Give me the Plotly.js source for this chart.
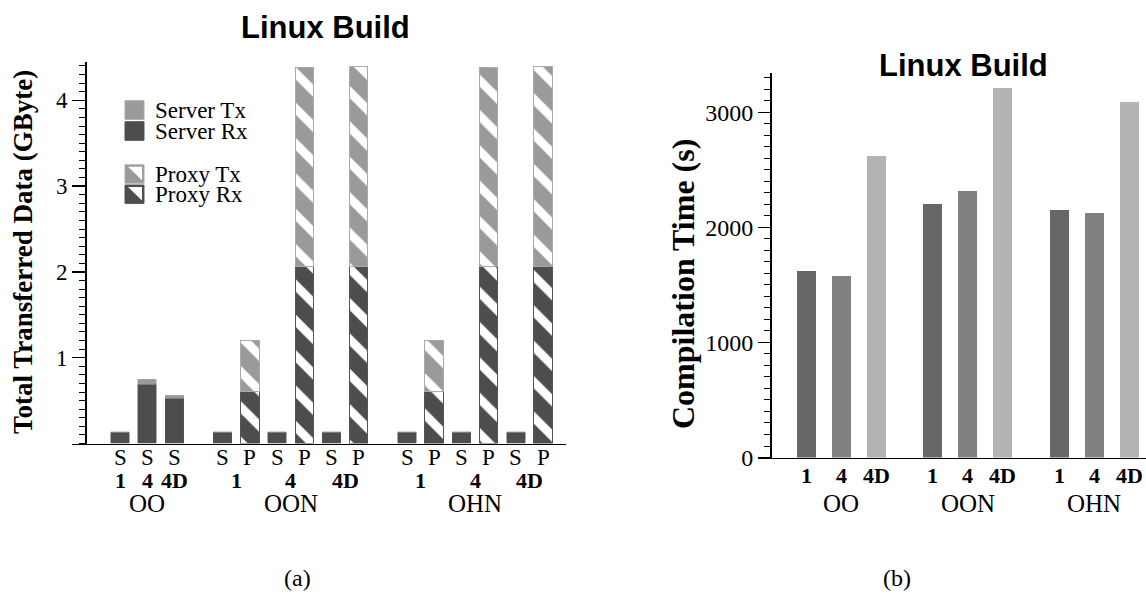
<!DOCTYPE html>
<html>
<head>
<meta charset="utf-8">
<script src="https://cdn.plot.ly/plotly-3.0.1.min.js"></script>
<style>html,body{margin:0;padding:0;background:#fff;}#chart{width:1146px;height:603px;}</style>
</head>
<body>
<div id="chart"></div>
<script>
// ---------- data ----------
const groupNames = ['OO', 'OON', 'OHN'];
const configLabels = ['1', '4', '4D'];
const groupHasProxy = [false, true, true];
// per group x config (OO 1,4,4D | OON 1,4,4D | OHN 1,4,4D), GByte
const serverRx = [0.13, 0.69, 0.53, 0.13, 0.13, 0.13, 0.13, 0.13, 0.13];
const serverTx = [0.006, 0.06, 0.03, 0.006, 0.006, 0.006, 0.006, 0.006, 0.006];
const proxyRx  = [null, null, null, 0.61, 2.06, 2.06, 0.61, 2.06, 2.06];
const proxyTx  = [null, null, null, 0.59, 2.32, 2.33, 0.59, 2.32, 2.33];
// compilation time (s)
const compileTime = [1622, 1578, 2620, 2201, 2318, 3214, 2152, 2122, 3087];
const serverTickLabel = 'S';
const proxyTickLabel = 'P';
const chartTitle = 'Linux Build';
const leftYTitle = 'Total Transferred Data (GByte)';
const rightYTitle = 'Compilation Time (s)';
const legendLabels = ['Server Tx', 'Server Rx', 'Proxy Tx', 'Proxy Rx'];
const captions = ['(a)', '(b)'];

// ---------- layout helpers ----------
const W = 1146, H = 603;
const fx = p => p / W;
const fy = p => 1 - p / H;
const serif = 'Liberation Serif, Times New Roman, serif';
const sans = 'Liberation Sans, Arial, sans-serif';

const cDarkL = '#4d4d4d', cLightL = '#9a9a9a';
const rightColors = ['#666666', '#808080', '#b3b3b3'];

// left slot positions
const leftGap = 1.776;
const sX = [], pX = [], sIdx = [], pIdx = [];
const leftTickVals = [], leftTickText = [];
const cfgCenterL = [], grpCenterL = [];
let pos = 0;
groupNames.forEach((g, gi) => {
  const start = pos;
  configLabels.forEach((c, ci) => {
    const k = gi * configLabels.length + ci;
    const sPos = pos;
    sX.push(pos); sIdx.push(k);
    leftTickVals.push(pos); leftTickText.push(serverTickLabel);
    pos += 1;
    if (groupHasProxy[gi]) {
      pX.push(pos); pIdx.push(k);
      leftTickVals.push(pos); leftTickText.push(proxyTickLabel);
      cfgCenterL.push([(sPos + pos) / 2, c]);
      pos += 1;
    } else {
      cfgCenterL.push([sPos, c]);
    }
  });
  grpCenterL.push([(start + pos - 1) / 2, g]);
  pos = pos - 1 + leftGap;
});

// right slot positions
const rightGap = 1.6;
const rX = [], cfgR = [], grpCenterR = [];
pos = 0;
groupNames.forEach((g, gi) => {
  const start = pos;
  configLabels.forEach((c, ci) => { rX.push(pos); cfgR.push(c); pos += 1; });
  grpCenterR.push([(start + pos - 1) / 2, g]);
  pos = pos - 1 + rightGap;
});

// pixel calibration
const L = {slot0: 120, slotPx: 27.2, x0: 72, x1: 566, yAxisPx: 85, zeroPx: 443.5, topPx: 61.7, yMax: 4.45};
const R = {slot0: 806.3, slotPx: 35.1, x0: 758, x1: 1146, yAxisPx: 770, zeroPx: 457.5, topPx: 73.3, yMax: 3340};

const pick = (arr, idx) => idx.map(i => arr[i]);
const wL = 0.68, wR = 0.54;

const traces = [
  {type: 'bar', x: sX, y: pick(serverRx, sIdx), width: wL, xaxis: 'x', yaxis: 'y', name: legendLabels[1],
   marker: {color: cDarkL, line: {color: '#5a5a5a', width: 0.5}}, hoverinfo: 'y'},
  {type: 'bar', x: sX, y: pick(serverTx, sIdx), width: wL, xaxis: 'x', yaxis: 'y', name: legendLabels[0],
   marker: {color: cLightL, line: {color: '#a8a8a8', width: 0.5}}, hoverinfo: 'y'},
  {type: 'bar', x: pX, y: pick(proxyRx, pIdx), width: wL, xaxis: 'x', yaxis: 'y', name: legendLabels[3],
   marker: {color: cDarkL, line: {color: '#555555', width: 1},
     pattern: {shape: '\\', fgcolor: '#ffffff', bgcolor: cDarkL, size: 25, solidity: 0.35, fillmode: 'replace'}}, hoverinfo: 'y'},
  {type: 'bar', x: pX, y: pick(proxyTx, pIdx), width: wL, xaxis: 'x', yaxis: 'y', name: legendLabels[2],
   marker: {color: cLightL, line: {color: '#aaaaaa', width: 1},
     pattern: {shape: '\\', fgcolor: '#ffffff', bgcolor: cLightL, size: 25, solidity: 0.35, fillmode: 'replace'}}, hoverinfo: 'y'},
  {type: 'bar', x: rX, y: compileTime, width: wR, xaxis: 'x2', yaxis: 'y2', name: 'time',
   marker: {color: cfgR.map(c => rightColors[configLabels.indexOf(c)]), line: {width: 0}}, hoverinfo: 'y'}
];

const annotations = [];
const shapes = [];
const txt = (text, xref, x, py, size, extra) => annotations.push(Object.assign({
  text: text, xref: xref, yref: 'paper', x: x, y: fy(py), xanchor: 'center', yanchor: 'middle',
  showarrow: false, font: {family: serif, size: size, color: '#000'}}, extra || {}));

// titles
txt('<b>' + chartTitle + '</b>', 'paper', fx(325), 27, 31, {font: {family: sans, size: 31, color: '#000'}});
txt('<b>' + chartTitle + '</b>', 'paper', fx(963), 66, 31, {font: {family: sans, size: 31, color: '#000'}});
// y titles
txt('<b>' + leftYTitle + '</b>', 'paper', fx(23), 252, 27, {textangle: -90});
txt('<b>' + rightYTitle + '</b>', 'paper', fx(683), 284, 32, {textangle: -90});
// left x labels: S/P row, config row, group row
leftTickVals.forEach((v, i) => txt(leftTickText[i], 'x', v, 457, 23));
cfgCenterL.forEach(([x, c]) => txt('<b>' + c + '</b>', 'x', x, 480, 22));
grpCenterL.forEach(([x, g]) => txt(g, 'x', x, 503, 25));
// right x labels
rX.forEach((v, i) => txt('<b>' + cfgR[i] + '</b>', 'x2', v, 475, 22));
grpCenterR.forEach(([x, g]) => txt(g, 'x2', x, 503.5, 25));
// captions
txt(captions[0], 'paper', fx(297), 578, 24);
txt(captions[1], 'paper', fx(897), 578, 24);

// manual legend
const legRows = [
  {label: legendLabels[0], color: cLightL, top: 100.7, bot: 119.3, hatch: false},
  {label: legendLabels[1], color: cDarkL, top: 121.7, bot: 140.3, hatch: false},
  {label: legendLabels[2], color: cLightL, top: 164.8, bot: 183.2, hatch: true},
  {label: legendLabels[3], color: cDarkL, top: 185.0, bot: 203.4, hatch: true}
];
const lx0 = 125, lx1 = 144;
legRows.forEach(r => {
  shapes.push({type: 'rect', xref: 'paper', yref: 'paper', x0: fx(lx0), x1: fx(lx1), y0: fy(r.bot), y1: fy(r.top),
    fillcolor: r.color, line: {color: r.color === cDarkL ? '#555' : '#aaa', width: 1}});
  if (r.hatch) {
    const a = [fx(lx0 + 3), fy(r.top + 2)], b = [fx(lx1 - 2), fy(r.top + 2)], c = [fx(lx1 - 2), fy(r.bot - 3)];
    shapes.push({type: 'path', xref: 'paper', yref: 'paper',
      path: `M ${a[0]} ${a[1]} L ${b[0]} ${b[1]} L ${c[0]} ${c[1]} Z`, fillcolor: '#ffffff', line: {width: 0}});
  }
  annotations.push({text: r.label, xref: 'paper', yref: 'paper', x: fx(153), y: fy((r.top + r.bot) / 2),
    xanchor: 'left', yanchor: 'middle', showarrow: false, font: {family: serif, size: 23, color: '#000'}});
});

const axisCommon = {showgrid: false, zeroline: false, showline: true, linecolor: '#000', linewidth: 1.5, fixedrange: true};

const layout = {
  width: W, height: H,
  margin: {l: 0, r: 0, t: 0, b: 0, pad: 0},
  paper_bgcolor: '#ffffff', plot_bgcolor: 'rgba(0,0,0,0)',
  showlegend: false,
  barmode: 'stack',
  font: {family: serif, color: '#000'},
  xaxis: Object.assign({}, axisCommon, {
    domain: [fx(L.x0), fx(L.x1)], anchor: 'y',
    range: [(L.x0 - L.slot0) / L.slotPx, (L.x1 - L.slot0) / L.slotPx],
    showticklabels: false, ticks: ''
  }),
  yaxis: Object.assign({}, axisCommon, {
    domain: [fy(L.zeroPx), fy(L.topPx)], anchor: 'free', position: fx(L.yAxisPx),
    range: [0, L.yMax], tickmode: 'array', tickvals: [1, 2, 3, 4],
    ticks: 'outside', ticklen: 13, tickwidth: 1.5, tickcolor: '#000',
    tickfont: {family: serif, size: 23, color: '#000'},
    minor: {tickmode: 'linear', tick0: 0, dtick: 0.1, ticks: 'outside', ticklen: 6, tickwidth: 1, tickcolor: '#000', showgrid: false}
  }),
  xaxis2: Object.assign({}, axisCommon, {
    domain: [fx(R.x0), fx(R.x1)], anchor: 'y2',
    range: [(R.x0 - R.slot0) / R.slotPx, (R.x1 - R.slot0) / R.slotPx],
    showticklabels: false, ticks: ''
  }),
  yaxis2: Object.assign({}, axisCommon, {
    domain: [fy(R.zeroPx), fy(R.topPx)], anchor: 'free', position: fx(R.yAxisPx),
    range: [0, R.yMax], tickmode: 'array', tickvals: [0, 1000, 2000, 3000],
    ticks: 'outside', ticklen: 12, tickwidth: 1.5, tickcolor: '#000',
    tickfont: {family: serif, size: 24, color: '#000'},
    minor: {tickmode: 'linear', tick0: 0, dtick: 100, ticks: 'outside', ticklen: 6, tickwidth: 1, tickcolor: '#000', showgrid: false}
  }),
  annotations: annotations,
  shapes: shapes
};

Plotly.newPlot('chart', traces, layout, {displayModeBar: false, staticPlot: true});
</script>
</body>
</html>
